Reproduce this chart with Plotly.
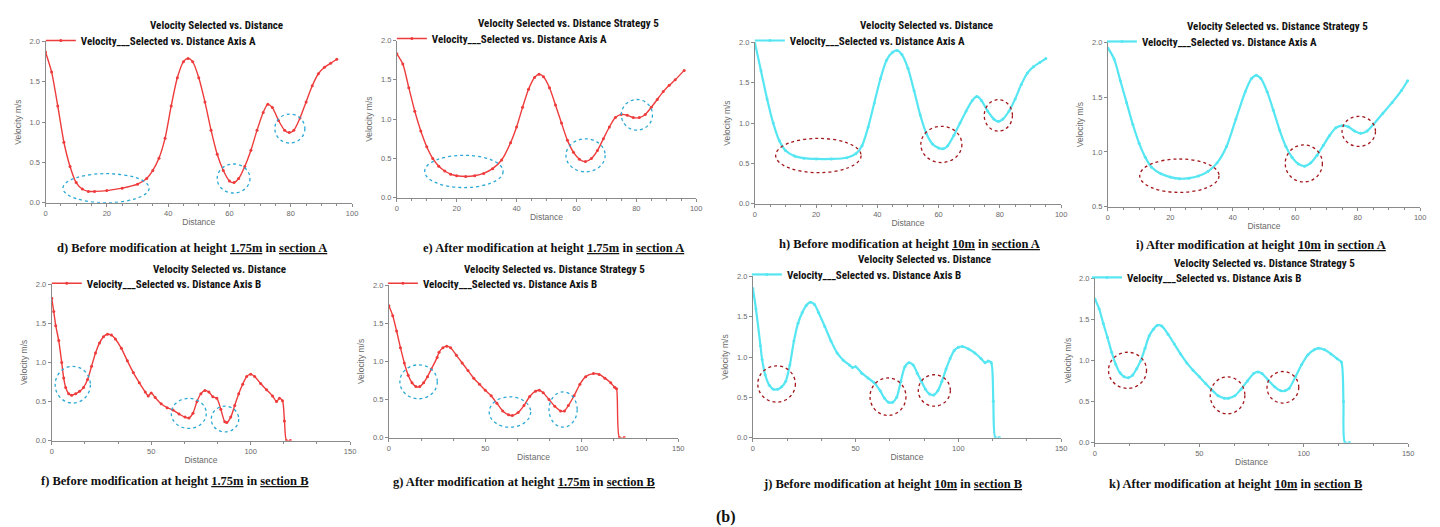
import plotly.graph_objects as go

# ---------------- data ----------------
d_x = [0, 2, 4, 6, 8, 10, 12, 14, 16, 20, 25, 30, 33, 35, 37, 39, 41, 43, 45, 46.5, 48, 50, 52, 54, 56, 58, 60, 61.5, 63, 65, 67, 69, 71, 72.5, 74, 76, 78, 79.5, 81, 83, 85, 87, 89, 91, 93, 95]
d_y = [1.87, 1.62, 1.2, 0.75, 0.45, 0.25, 0.17, 0.14, 0.14, 0.15, 0.18, 0.23, 0.3, 0.4, 0.55, 0.8, 1.2, 1.55, 1.75, 1.79, 1.75, 1.55, 1.25, 0.9, 0.6, 0.4, 0.27, 0.25, 0.3, 0.45, 0.65, 0.9, 1.12, 1.22, 1.18, 1.02, 0.9, 0.87, 0.9, 1.05, 1.25, 1.45, 1.6, 1.68, 1.73, 1.78]

e_x = [0, 2, 4, 6, 8, 10, 12, 14, 16, 18, 20, 23, 26, 29, 32, 35, 38, 40, 42, 44, 46, 47.5, 49, 51, 53, 55, 57, 59, 61, 63, 65, 67, 69, 71, 73, 75, 77, 79, 81, 83, 85, 87, 89, 91, 93, 96]
e_y = [1.83, 1.7, 1.4, 1.1, 0.85, 0.65, 0.5, 0.4, 0.34, 0.3, 0.28, 0.27, 0.28, 0.31, 0.37, 0.48, 0.7, 0.9, 1.15, 1.38, 1.53, 1.57, 1.54, 1.4, 1.18, 0.95, 0.73, 0.58, 0.49, 0.46, 0.5, 0.6, 0.75, 0.9, 1.02, 1.06, 1.05, 1.02, 1.02, 1.06, 1.15, 1.25, 1.35, 1.43, 1.5, 1.62]

h_x = [0, 2, 4, 6, 8, 10, 13, 16, 20, 25, 30, 33, 35, 37, 39, 41, 43, 45, 46.5, 48, 50, 52, 54, 56, 58, 60, 61.5, 63, 65, 67, 69, 71, 72.5, 74, 76, 78, 79.5, 81, 83, 85, 87, 89, 91, 93, 95]
h_y = [2.0, 1.65, 1.3, 1.0, 0.78, 0.66, 0.59, 0.565, 0.555, 0.555, 0.57, 0.62, 0.72, 0.95, 1.25, 1.55, 1.78, 1.88, 1.9, 1.85, 1.68, 1.4, 1.1, 0.87, 0.74, 0.69, 0.68, 0.72, 0.85, 1.0, 1.15, 1.28, 1.33, 1.28, 1.15, 1.05, 1.02, 1.05, 1.15, 1.3, 1.48, 1.62, 1.7, 1.75, 1.8]

i_x = [0, 2, 4, 6, 8, 10, 12, 14, 17, 20, 23, 26, 29, 32, 35, 38, 41, 44, 46, 47.5, 49, 51, 53, 55, 57, 59, 61, 63, 65, 67, 69, 71, 73, 75, 77, 79, 81, 83, 85, 88, 91, 94, 96]
i_y = [1.95, 1.85, 1.65, 1.45, 1.25, 1.08, 0.95, 0.86, 0.8, 0.77, 0.755, 0.76, 0.78, 0.82, 0.9, 1.05, 1.3, 1.55, 1.67, 1.7, 1.67, 1.55, 1.38, 1.2, 1.05, 0.95, 0.89, 0.87, 0.9, 0.97, 1.06, 1.15, 1.22, 1.24, 1.23, 1.19, 1.17, 1.19, 1.25, 1.35, 1.45, 1.56, 1.65]

f_x = [0, 1, 2, 3.5, 5, 6, 7, 8.5, 10, 12, 14, 16, 18, 20, 22, 24, 26, 28, 30, 32, 35, 38, 41, 44, 47, 48.5, 50, 52, 55, 58, 61, 64, 67, 69, 71, 73, 75, 77, 79, 81, 83, 85, 87, 88, 90, 92, 94, 96, 98, 100, 102, 105, 108, 111, 113, 114.5, 116, 117, 118, 120]
f_y = [1.82, 1.65, 1.47, 1.28, 1.0, 0.8, 0.68, 0.6, 0.58, 0.6, 0.63, 0.68, 0.78, 0.95, 1.12, 1.25, 1.33, 1.36, 1.35, 1.3, 1.18, 1.02, 0.87, 0.74, 0.62, 0.57, 0.61, 0.55, 0.47, 0.42, 0.39, 0.34, 0.3, 0.29, 0.35, 0.5, 0.6, 0.64, 0.62, 0.56, 0.54, 0.4, 0.24, 0.23, 0.3, 0.45, 0.6, 0.72, 0.82, 0.85, 0.82, 0.73, 0.65, 0.57, 0.5, 0.54, 0.51, 0.25, 0.0, 0.0]

g_x = [0, 2, 4, 6, 8, 10, 12, 14, 16, 18, 20, 22, 25, 26, 28, 30, 32, 35, 38, 41, 44, 47, 50, 53, 56, 59, 62, 64, 67, 70, 73, 76, 78, 80, 83, 86, 89, 91, 93, 96, 99, 102, 106, 109, 112, 115, 117, 118, 119.5, 122]
g_y = [1.73, 1.6, 1.4, 1.18, 0.98, 0.82, 0.72, 0.67, 0.67, 0.72, 0.8, 0.9, 1.05, 1.12, 1.18, 1.2, 1.18, 1.08, 0.98, 0.88, 0.78, 0.7, 0.62, 0.55, 0.45, 0.35, 0.3, 0.29, 0.33, 0.42, 0.54, 0.61, 0.62, 0.59, 0.5, 0.41, 0.35, 0.35, 0.42, 0.55, 0.7, 0.8, 0.84, 0.83, 0.78, 0.72, 0.66, 0.64, 0.0, 0.0]

j_x = [0, 1.5, 3.7, 4.5, 6, 8, 10, 12, 14, 16, 18, 20, 22, 24, 26, 28, 30, 32, 35, 38, 41, 44, 47, 48.5, 50, 53, 56, 59, 62, 64, 66, 68, 70, 72, 74, 76, 78, 80, 82, 84, 86, 88, 90, 92, 94, 96, 98, 100, 102, 105, 108, 111, 113, 114.5, 116, 117, 118, 120]
j_y = [1.85, 1.6, 1.14, 0.97, 0.78, 0.65, 0.6, 0.6, 0.63, 0.7, 0.9, 1.2, 1.42, 1.55, 1.64, 1.68, 1.65, 1.55, 1.38, 1.2, 1.05, 0.96, 0.9, 0.87, 0.88, 0.8, 0.74, 0.68, 0.58, 0.49, 0.44, 0.44, 0.5, 0.7, 0.88, 0.93, 0.9, 0.8, 0.7, 0.6, 0.54, 0.53, 0.58, 0.7, 0.85, 0.98, 1.08, 1.12, 1.13, 1.1, 1.05, 0.98, 0.93, 0.95, 0.93, 0.45, 0.0, 0.0]

k_x = [0, 2, 4, 6, 8, 10, 12, 14, 16, 18, 20, 22, 24, 26, 28, 30, 32, 35, 38, 41, 44, 47, 50, 53, 56, 59, 62, 64, 67, 70, 73, 76, 78, 80, 83, 86, 89, 91, 93, 96, 99, 102, 105, 107, 110, 113, 116, 118, 119, 119.7, 122]
k_y = [1.75, 1.63, 1.45, 1.28, 1.1, 0.95, 0.85, 0.8, 0.79, 0.82, 0.9, 1.0, 1.15, 1.3, 1.38, 1.43, 1.42, 1.32, 1.2, 1.08, 0.97, 0.88, 0.8, 0.72, 0.64, 0.57, 0.54, 0.54, 0.57, 0.65, 0.75, 0.84, 0.86, 0.84, 0.76, 0.68, 0.63, 0.63, 0.66, 0.8, 0.95, 1.07, 1.13, 1.15, 1.13, 1.08, 1.02, 0.98, 0.5, 0.0, 0.0]

titles = ["Velocity Selected vs. Distance", "Velocity Selected vs. Distance Strategy 5"]
legend_names = ["Velocity___Selected vs. Distance Axis A", "Velocity___Selected vs. Distance Axis B"]
captions = [
    "d) Before modification at height <u>1.75m</u> in <u>section A</u>",
    "e) After modification at height <u>1.75m</u> in <u>section A</u>",
    "h) Before modification at height <u>10m</u> in <u>section A</u>",
    "i) After modification at height <u>10m</u> in <u>section A</u>",
    "f) Before modification at height <u>1.75m</u> in <u>section B</u>",
    "g) After modification at height <u>1.75m</u> in <u>section B</u>",
    "j) Before modification at height <u>10m</u> in <u>section B</u>",
    "k) After modification at height <u>10m</u> in <u>section B</u>",
]
x_label = "Distance"
y_label = "Velocity m/s"

# ---------------- layout geometry ----------------
W, H = 1440, 527
RED = "#ee3b3b"
CYAN = "#55e6f2"
BLUE_RING = "#2aa9d6"
RED_RING = "#a3161a"

panels = [
    dict(x=d_x, y=d_y, c=RED, rc=BLUE_RING, t=0, l=0, box=(35.7, 344, 30, 194), xmax=100, ymin=0, dt=20,
         tx=208, ty=14, lx=31, ly=29, cx=183, cy=240,
         ell=[(5.7, 33.8, 0.0, 0.36), (56, 66.7, 0.12, 0.48), (74.8, 84.6, 0.74, 1.1)]),
    dict(x=e_x, y=e_y, c=RED, rc=BLUE_RING, t=1, l=0, box=(389, 690, 29, 189), xmax=100, ymin=0, dt=20,
         tx=562, ty=12, lx=384, ly=27, cx=547, cy=240,
         ell=[(9.3, 35.5, 0.13, 0.54), (56.5, 69.6, 0.33, 0.75), (75, 85.4, 0.86, 1.25)]),
    dict(x=h_x, y=h_y, c=CYAN, rc=RED_RING, t=0, l=0, box=(749, 1057, 31, 195), xmax=100, ymin=0, dt=20,
         tx=922, ty=14, lx=744, ly=29, cx=905, cy=236,
         ell=[(6.8, 34.7, 0.385, 0.81), (54.2, 67.6, 0.51, 0.96), (74.9, 84.1, 0.9, 1.29)]),
    dict(x=i_x, y=i_y, c=CYAN, rc=RED_RING, t=1, l=0, box=(1104, 1418, 31, 198), xmax=100, ymin=0.5, dt=20,
         tx=1275, ty=15, lx=1098, ly=30, cx=1258, cy=237,
         ell=[(10.2, 35.6, 0.63, 0.935), (56.8, 68.7, 0.725, 1.064), (75, 85.7, 1.05, 1.325)]),
    dict(x=f_x, y=f_y, c=RED, rc=BLUE_RING, t=0, l=1, box=(42, 342, 277, 436), xmax=150, ymin=0, dt=50,
         tx=211, ty=262, lx=37, ly=276, cx=165, cy=477,
         ell=[(1.7, 19.4, 0.48, 0.95), (60.1, 77.7, 0.155, 0.54), (80.2, 94, 0.11, 0.44)]),
    dict(x=g_x, y=g_y, c=RED, rc=BLUE_RING, t=1, l=1, box=(381, 672, 278, 433), xmax=150, ymin=0, dt=50,
         tx=548, ty=262, lx=375, ly=276, cx=517, cy=478,
         ell=[(5.7, 25.1, 0.51, 0.955), (52, 73.5, 0.137, 0.535), (83, 97.6, 0.137, 0.6)]),
    dict(x=j_x, y=j_y, c=CYAN, rc=RED_RING, t=0, l=1, box=(747, 1057, 269, 433), xmax=150, ymin=0, dt=50,
         tx=920, ty=252, lx=741, ly=267, cx=887, cy=480,
         ell=[(2.4, 20.7, 0.44, 0.89), (57, 74.5, 0.276, 0.74), (80.5, 96.1, 0.39, 0.78)]),
    dict(x=k_x, y=k_y, c=CYAN, rc=RED_RING, t=1, l=1, box=(1091, 1406, 271, 438), xmax=150, ymin=0, dt=50,
         tx=1262, ty=256, lx=1083, ly=270, cx=1232, cy=480,
         ell=[(6.5, 24.7, 0.66, 1.1), (55.2, 71.8, 0.35, 0.8), (82.4, 97.6, 0.48, 0.865)]),
]

LEG_FONT = "Liberation Sans Narrow, Roboto Condensed, Arial Narrow, Roboto, sans-serif"
AX_FONT = "Liberation Sans, Arial, sans-serif"
fig = go.Figure()
shapes = []
annotations = []
layout = {}

for n, p in enumerate(panels, start=1):
    sfx = "" if n == 1 else str(n)
    x0, x1, yt, yb = p["box"]
    xa = dict(domain=[x0 / W, x1 / W], anchor="y" + sfx, range=[0, p["xmax"]],
              showline=True, linecolor="#8a8a8a", linewidth=1, ticks="outside", ticklen=3,
              tickcolor="#8a8a8a", dtick=p["dt"], tick0=0, showgrid=False, zeroline=False,
              tickfont=dict(size=7.5, color="#6a6a6a", family=AX_FONT),
              minor=dict(ticks="outside", ticklen=2, dtick=p["dt"] / 4 if p["dt"] == 20 else p["dt"] / 3,
                         tickcolor="#8a8a8a", showgrid=False),
              title=dict(text=x_label, font=dict(size=8.5, color="#6a6a6a", family=AX_FONT), standoff=2))
    ya = dict(domain=[1 - yb / H, 1 - yt / H], anchor="x" + sfx, range=[p["ymin"], 2.0],
              showline=True, linecolor="#8a8a8a", linewidth=1, ticks="outside", ticklen=3,
              tickcolor="#8a8a8a", dtick=0.5, tickformat=".1f", showgrid=False, zeroline=False,
              tickfont=dict(size=7.5, color="#6a6a6a", family=AX_FONT),
              title=dict(text=y_label, font=dict(size=8.5, color="#6a6a6a", family=AX_FONT), standoff=6))
    layout["xaxis" + sfx] = xa
    layout["yaxis" + sfx] = ya
    legkey = "legend" if n == 1 else "legend" + str(n)
    layout[legkey] = dict(x=p["lx"] / W, y=1 - p["ly"] / H, xanchor="left", yanchor="middle",
                          bgcolor="rgba(0,0,0,0)", itemwidth=30, tracegroupgap=0,
                          font=dict(size=11, color="#111", family=LEG_FONT))
    lw = 1.4 if p["c"] == RED else 2.2
    fig.add_trace(go.Scatter(
        x=p["x"], y=p["y"], mode="lines+markers", name="<b>" + legend_names[p["l"]] + "</b>",
        line=dict(color=p["c"], width=lw, shape="spline", smoothing=0.7),
        marker=dict(size=3, color=p["c"]),
        xaxis="x" + sfx, yaxis="y" + sfx, legend=legkey, showlegend=True))
    for (ex0, ex1, ey0, ey1) in p["ell"]:
        shapes.append(dict(type="circle", xref="x" + sfx, yref="y" + sfx, x0=ex0, x1=ex1, y0=ey0, y1=ey1,
                           line=dict(color=p["rc"], width=1.3, dash="dot")))
    annotations.append(dict(text="<b>" + titles[p["t"]] + "</b>", x=p["tx"] / W, y=1 - p["ty"] / H,
                            xref="paper", yref="paper", showarrow=False, xanchor="center", yanchor="middle",
                            font=dict(size=11, color="#111", family=LEG_FONT)))
    annotations.append(dict(text="<b>" + captions[n - 1] + "</b>", x=p["cx"] / W, y=1 - p["cy"] / H,
                            xref="paper", yref="paper", showarrow=False, xanchor="center", yanchor="middle",
                            font=dict(size=12.5, color="#111", family="Liberation Serif, Times New Roman, serif")))

annotations.append(dict(text="<b>(b)</b>", x=720 / W, y=1 - 525 / H, xref="paper", yref="paper",
                        showarrow=False, xanchor="center", yanchor="bottom",
                        font=dict(size=16, color="#111", family="Liberation Serif, Times New Roman, serif")))

fig.update_layout(**layout)
fig.update_layout(width=W, height=H, margin=dict(l=0, r=0, t=0, b=0), paper_bgcolor="white",
                  plot_bgcolor="white", shapes=shapes, annotations=annotations, showlegend=True)
fig.write_html("out.html", include_plotlyjs=True, full_html=True, config={"displayModeBar": False})
